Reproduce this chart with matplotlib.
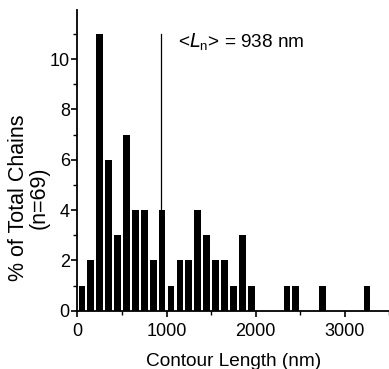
import numpy as np
import matplotlib.pyplot as plt
from matplotlib.ticker import MultipleLocator

plt.rcParams['font.family'] = ['Liberation Sans', 'DejaVu Sans']

# histogram of contour lengths, 100 nm bins
bin_left = [0, 100, 200, 300, 400, 500, 600, 700, 800, 900, 1000, 1100,
            1200, 1300, 1400, 1500, 1600, 1700, 1800, 1900, 2300, 2400, 2700, 3200]
percent = [1, 2, 11, 6, 3, 7, 4, 4, 2, 4, 1, 2,
           2, 4, 3, 2, 2, 1, 3, 1, 1, 1, 1, 1]
mean_len = 938
mean_line_top = 11

fig = plt.figure(figsize=(3.89, 3.69), dpi=100)
ax = fig.add_axes([0.199, 0.158, 0.802, 0.815])

centers = np.array(bin_left) + 50
ax.bar(centers, percent, width=75, color='black', edgecolor='none')
ax.plot([mean_len, mean_len], [0, mean_line_top], color='black', lw=0.9)
ax.text(1125, 10.47, r'<$L_\mathregular{n}$> = 938 nm', fontsize=13.7,
        va='baseline', ha='left')

ax.set_xlim(0, 3500)
ax.set_ylim(0, 11.95)
ax.xaxis.set_major_locator(MultipleLocator(1000))
ax.xaxis.set_minor_locator(MultipleLocator(500))
ax.yaxis.set_major_locator(MultipleLocator(2))
ax.yaxis.set_minor_locator(MultipleLocator(1))
ax.spines['top'].set_visible(False)
ax.spines['right'].set_visible(False)
for s in ('left', 'bottom'):
    ax.spines[s].set_linewidth(1.3)
ax.tick_params(which='major', length=4, width=1.2, labelsize=13, direction='out')
ax.tick_params(which='minor', length=3, width=1.0, direction='out')
ax.tick_params(axis='x', which='major', pad=5)
ax.tick_params(axis='y', which='major', pad=1.5)

ax.set_xlabel('Contour Length (nm)', fontsize=13.7, labelpad=9)
ax.set_ylabel('% of Total Chains\n(n=69)', fontsize=15.5, linespacing=1.0)
ax.yaxis.set_label_coords(-0.088, 0.377)

fig.savefig('out.png', dpi=100)
